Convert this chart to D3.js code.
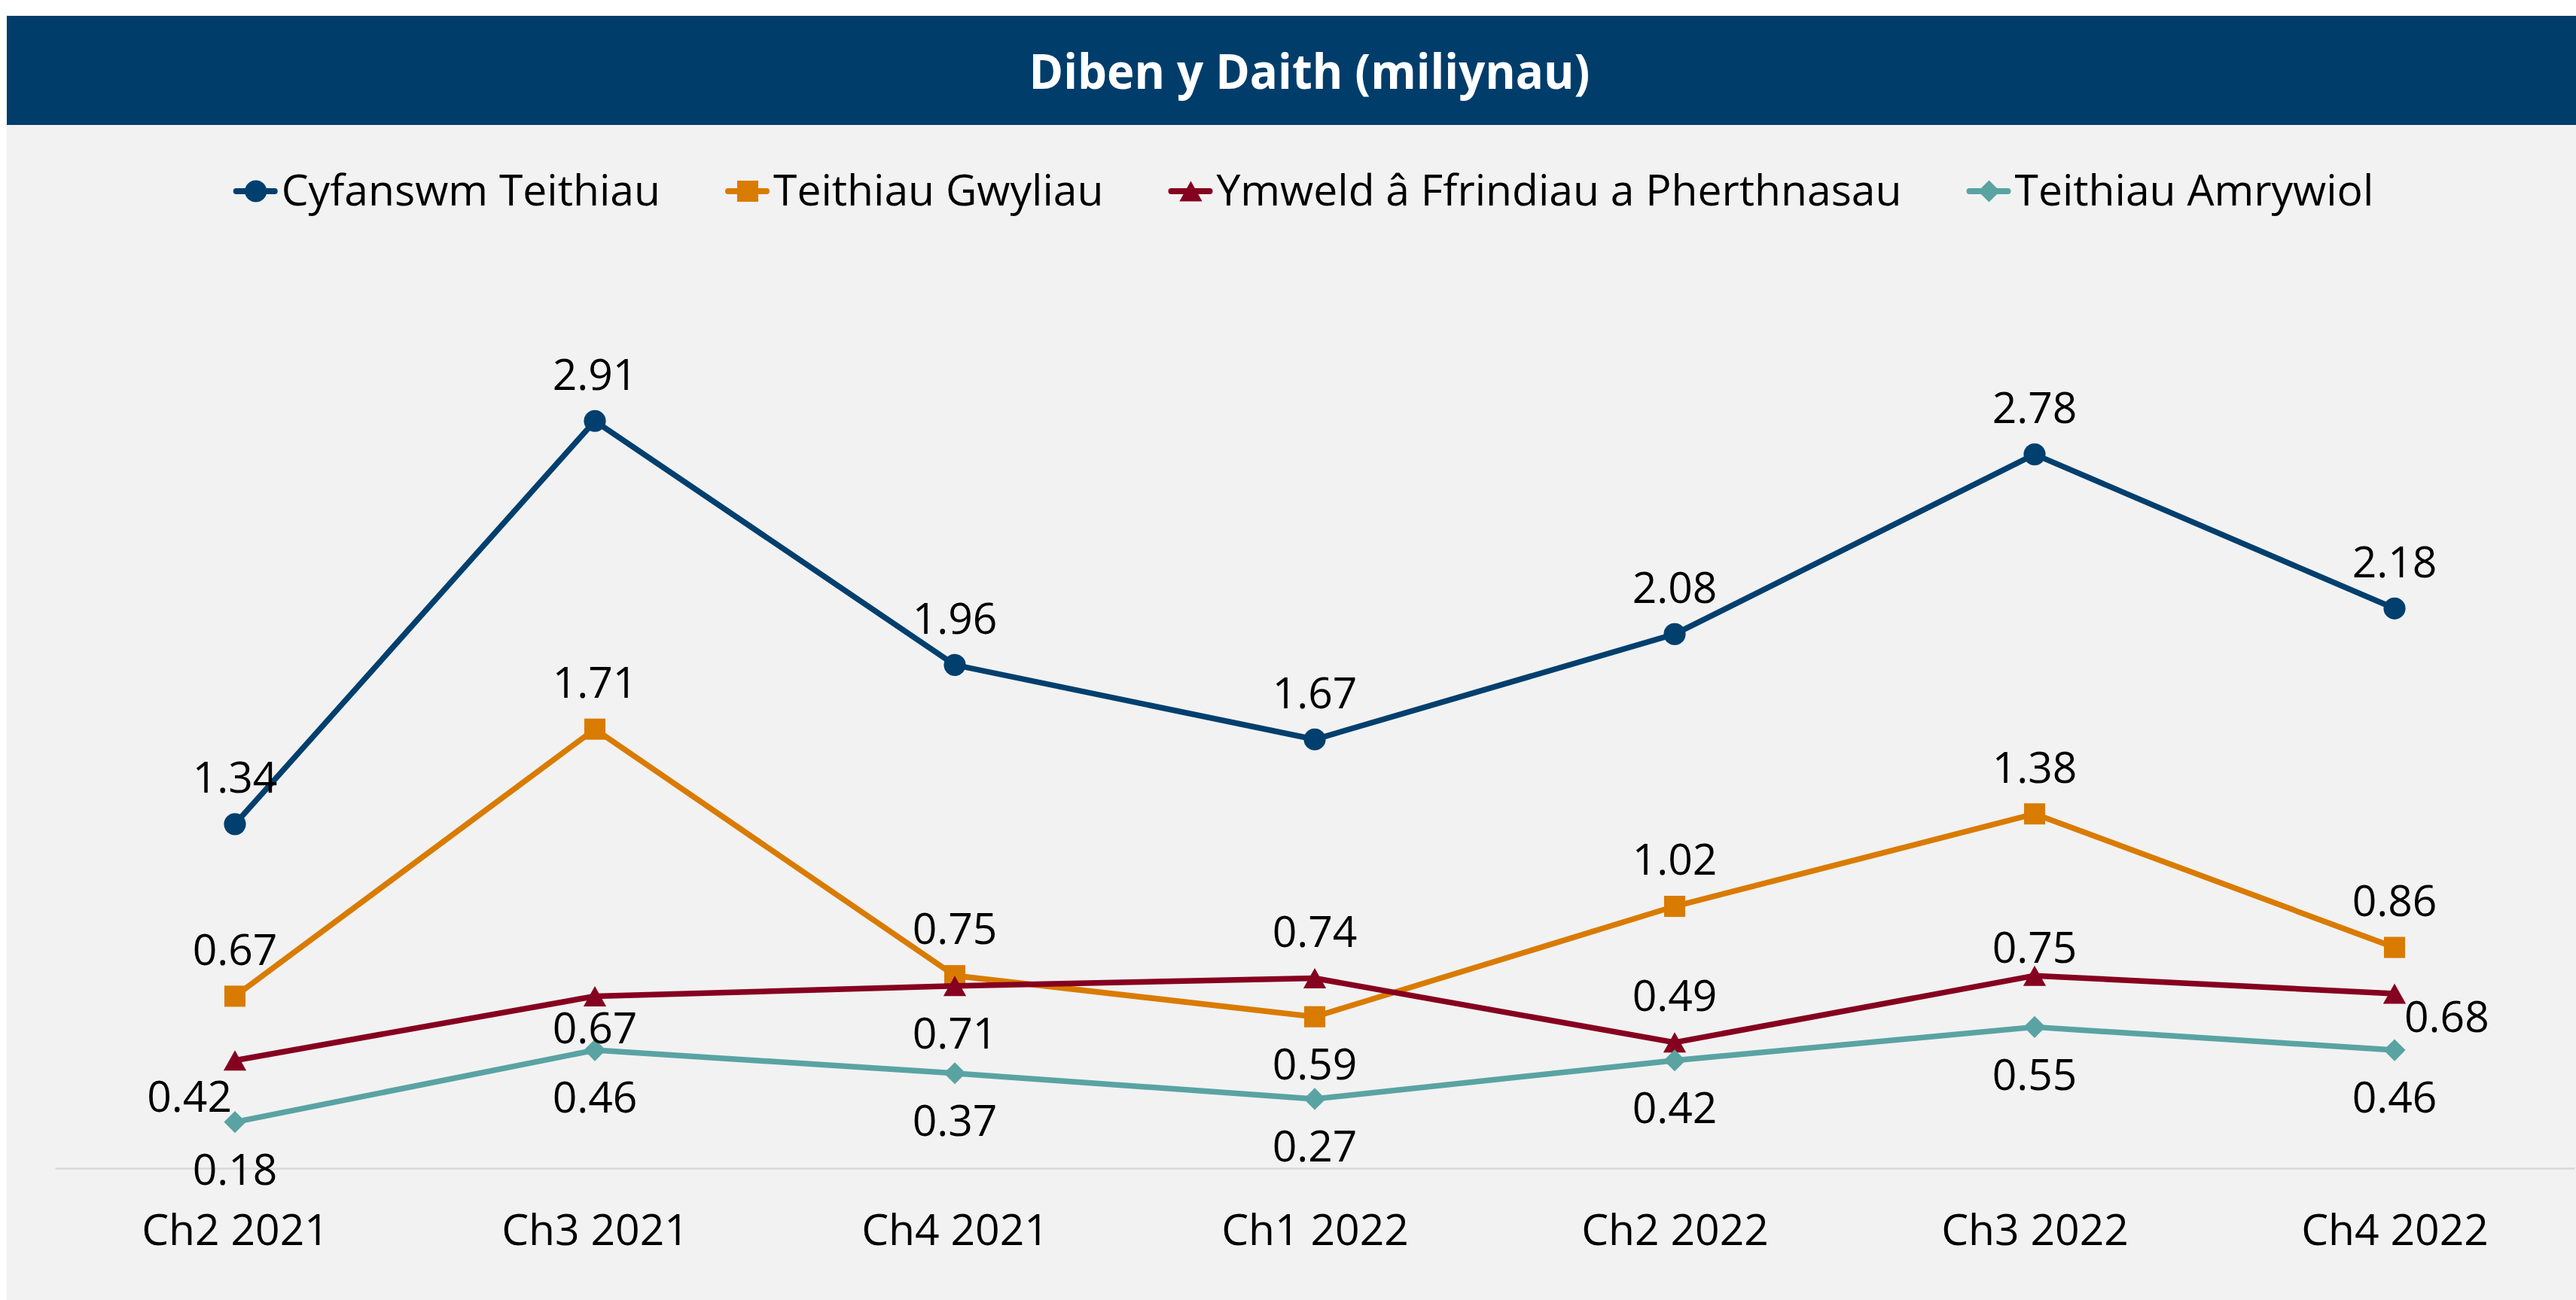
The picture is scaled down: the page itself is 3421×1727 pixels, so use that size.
<!DOCTYPE html>
<html>
<head>
<meta charset="utf-8">
<script src="https://cdn.jsdelivr.net/npm/d3@7"></script>
<style>
  html, body { margin: 0; padding: 0; background: #ffffff; }
  svg { display: block; }
  text { font-family: "Open Sans", "Noto Sans", sans-serif; }
</style>
</head>
<body>
<div id="chart"></div>
<script>
// ---- Data ----
const chartTitle = "Diben y Daith (miliynau)";
const categories = ["Ch2 2021", "Ch3 2021", "Ch4 2021", "Ch1 2022", "Ch2 2022", "Ch3 2022", "Ch4 2022"];
const seriesNames = ["Cyfanswm Teithiau", "Teithiau Gwyliau", "Ymweld â Ffrindiau a Pherthnasau", "Teithiau Amrywiol"];
const totalTrips   = [1.34, 2.91, 1.96, 1.67, 2.08, 2.78, 2.18];
const holidayTrips = [0.67, 1.71, 0.75, 0.59, 1.02, 1.38, 0.86];
const vfrTrips     = [0.42, 0.67, 0.71, 0.74, 0.49, 0.75, 0.68];
const miscTrips    = [0.18, 0.46, 0.37, 0.27, 0.42, 0.55, 0.46];
// label placement codes per point
const totalLabelPos   = ["t", "t", "t", "t", "t", "t", "t"];
const holidayLabelPos = ["t", "t", "t", "b", "t", "t", "t"];
const vfrLabelPos     = ["bl", "b1", "b", "t", "t", "t1", "br"];
const miscLabelPos    = ["b", "b", "b", "b", "b", "b", "b"];

// ---- Styles ----
const W = 3421, H = 1727;
const colors = ["#003f6e", "#d97b00", "#86001f", "#5aa3a3"];
const shapes = ["circle", "square", "triangle", "diamond"];
const FS = 57;                // text size
const CAP = 0.714 * FS;       // cap height

const seriesData = [totalTrips, holidayTrips, vfrTrips, miscTrips];
const labelPos = [totalLabelPos, holidayLabelPos, vfrLabelPos, miscLabelPos];

const svg = d3.select("#chart").append("svg")
  .attr("width", W).attr("height", H);

// backgrounds
svg.append("rect").attr("x", 9).attr("y", 21).attr("width", W - 9).attr("height", H - 21)
  .attr("fill", "#f2f2f2");
svg.append("rect").attr("x", 9).attr("y", 21).attr("width", W - 9).attr("height", 145)
  .attr("fill", "#003d6b");

// title
const title = svg.append("text")
  .attr("x", 1739).attr("y", 118)
  .attr("text-anchor", "middle")
  .attr("fill", "#ffffff")
  .attr("font-weight", "bold")
  .attr("font-size", 64)
  .text(chartTitle);
{
  const tw = title.node().getComputedTextLength();
  if (tw > 745) title.attr("textLength", 745).attr("lengthAdjust", "spacingAndGlyphs");
}

// scales
const x = d3.scalePoint().domain(categories).range([73, 3419]).padding(0.5);
const y = d3.scaleLinear().domain([0, 3.5]).range([1552, 358]);

// marker shape generator
function shapePath(kind, s) {
  if (kind === "circle") {
    const r = 13.5 * s;
    return `M${-r},0A${r},${r} 0 1,0 ${r},0A${r},${r} 0 1,0 ${-r},0Z`;
  }
  if (kind === "square") {
    const h = 13 * s;
    return `M${-h},${-h}H${h}V${h}H${-h}Z`;
  }
  if (kind === "triangle") {
    const w = 14 * s, hh = 12.5 * s;
    return `M0,${-hh}L${w},${hh}L${-w},${hh}Z`;
  }
  const w = 13.5 * s, hh = 13.5 * s;
  return `M0,${-hh}L${w},0L0,${hh}L${-w},0Z`;
}
const MK = 1.08;

// x axis
const axisG = svg.append("g")
  .attr("transform", `translate(0,${y(0)})`)
  .call(d3.axisBottom(x).tickSize(0).tickSizeOuter(0));
axisG.select(".domain").attr("stroke", "#d9d9d9").attr("stroke-width", 2.5);
axisG.selectAll(".tick text")
  .attr("y", 102).attr("dy", null)
  .attr("font-size", FS)
  .attr("font-family", "\"Open Sans\", sans-serif")
  .attr("fill", "#000000");

// lines & markers
const line = d3.line()
  .x((d, i) => x(categories[i]))
  .y(d => y(d));

seriesData.forEach((vals, si) => {
  const g = svg.append("g");
  g.append("path")
    .datum(vals)
    .attr("d", line)
    .attr("fill", "none")
    .attr("stroke", colors[si])
    .attr("stroke-width", 7.5)
    .attr("stroke-linejoin", "round");
  g.selectAll("path.mk")
    .data(vals)
    .join("path")
    .attr("class", "mk")
    .attr("transform", (d, i) => `translate(${x(categories[i])},${y(d)})`)
    .attr("d", shapePath(shapes[si], MK))
    .attr("fill", colors[si]);
});

// data labels
const offsets = {
  t:  { dx: 0,  dy: -62, anchor: "middle" },
  t1: { dx: 0,  dy: -37, anchor: "middle" },
  b:  { dx: 0,  dy: 63,  anchor: "middle" },
  b1: { dx: 0,  dy: 42,  anchor: "middle" },
  bl: { dx: -4, dy: 48,  anchor: "end" },
  br: { dx: 13, dy: 31,  anchor: "start" }
};
const labelG = svg.append("g");
seriesData.forEach((vals, si) => {
  labelG.selectAll(null)
    .data(vals)
    .join("text")
    .attr("x", (d, i) => x(categories[i]) + offsets[labelPos[si][i]].dx)
    .attr("y", (d, i) => y(d) + offsets[labelPos[si][i]].dy + CAP / 2)
    .attr("text-anchor", (d, i) => offsets[labelPos[si][i]].anchor)
    .attr("font-size", FS)
    .attr("fill", "#000000")
    .text(d => d3.format(".2f")(d));
});

// legend
const legend = svg.append("g");
const items = [];
const GAP = 86;
let cursor = 0;
seriesNames.forEach((name, si) => {
  const ig = legend.append("g");
  ig.append("line")
    .attr("x1", 4).attr("x2", 55).attr("y1", 0).attr("y2", 0)
    .attr("stroke", colors[si]).attr("stroke-width", 8).attr("stroke-linecap", "round");
  ig.append("path")
    .attr("transform", "translate(30,0)")
    .attr("d", shapePath(shapes[si], MK))
    .attr("fill", colors[si]);
  const t = ig.append("text")
    .attr("x", 64).attr("y", CAP / 2 - 1)
    .attr("font-size", FS)
    .attr("fill", "#000000")
    .text(name);
  const w = 64 + t.node().getComputedTextLength();
  items.push({ g: ig, x: cursor });
  cursor += w + GAP;
});
const totalW = cursor - GAP;
const startX = 1731 - totalW / 2;
items.forEach(it => it.g.attr("transform", `translate(${startX + it.x},254)`));
</script>
</body>
</html>
